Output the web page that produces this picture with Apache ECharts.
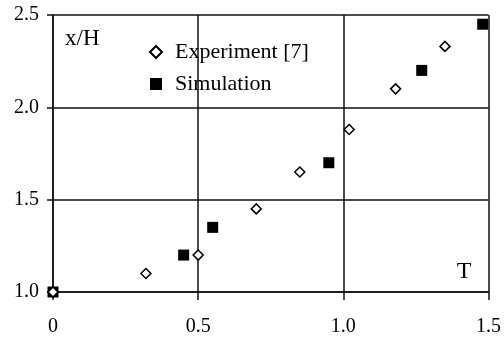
<!DOCTYPE html>
<html>
<head>
<meta charset="utf-8">
<script src="https://cdn.jsdelivr.net/npm/echarts@6/dist/echarts.min.js"></script>
<style>
  html, body { margin: 0; padding: 0; background: #fff; }
  #main { width: 504px; height: 338px; }
</style>
</head>
<body>
<div id="main"></div>
<script>
// 数据
var experiment = [[0, 1.0], [0.32, 1.1], [0.5, 1.2], [0.7, 1.45], [0.85, 1.65], [1.02, 1.88], [1.18, 2.1], [1.35, 2.33]];
var simulation = [[0, 1.0], [0.45, 1.2], [0.55, 1.35], [0.95, 1.7], [1.27, 2.2], [1.48, 2.45]];
var xTickLabels = {'0': '0', '0.5': '0.5', '1': '1.0', '1.5': '1.5'};
var yTickLabels = {'1': '1.0', '1.5': '1.5', '2': '2.0', '2.5': '2.5'};

(function() {
    var myChart = echarts.init(document.getElementById('main'));
    var font = '"Liberation Serif", "Times New Roman", serif';
    var lineColor = '#111';

    var option = {
        animation: false,
        grid: {
            left: 53,
            right: 13,
            top: 15,
            bottom: 46
        },
        legend: {
            orient: 'vertical',
            left: 144,
            top: 36,
            itemWidth: 12,
            itemHeight: 12,
            itemGap: 10,
            textStyle: {
                fontFamily: font,
                fontSize: 22,
                color: '#000',
                padding: [0, 0, 0, 8]
            },
            data: ['Experiment [7]', 'Simulation']
        },
        xAxis: {
            type: 'value',
            min: 0,
            max: 1.5,
            interval: 0.5,
            name: 'T',
            nameLocation: 'end',
            nameGap: -17,
            nameTextStyle: {
                fontFamily: font,
                fontSize: 24,
                color: '#000',
                align: 'right',
                verticalAlign: 'bottom',
                padding: [0, 0, 8, 0]
            },
            axisLine: { lineStyle: { color: lineColor, width: 1.5 } },
            axisTick: { show: true, inside: false, length: 8, lineStyle: { color: lineColor, width: 1.5 } },
            axisLabel: {
                margin: 25,
                fontFamily: font,
                fontSize: 20,
                color: '#000',
                formatter: function(v) { return xTickLabels[String(v)] || ''; }
            },
            splitLine: { show: true, lineStyle: { color: lineColor, width: 1.5 } }
        },
        yAxis: {
            type: 'value',
            min: 1.0,
            max: 2.5,
            interval: 0.5,
            name: 'x/H',
            nameLocation: 'end',
            nameGap: -24,
            nameTextStyle: {
                fontFamily: font,
                fontSize: 23,
                color: '#000',
                align: 'left',
                verticalAlign: 'middle',
                padding: [0, 0, 0, 12]
            },
            axisLine: { show: true, lineStyle: { color: lineColor, width: 1.5 } },
            axisTick: { show: true, inside: false, length: 6, lineStyle: { color: lineColor, width: 1.5 } },
            axisLabel: {
                margin: 14,
                fontFamily: font,
                fontSize: 20,
                color: '#000',
                formatter: function(v) { return yTickLabels[String(v)] || ''; }
            },
            splitLine: { show: true, lineStyle: { color: lineColor, width: 1.5 } }
        },
        series: [{
            name: 'Simulation',
            type: 'scatter',
            symbol: 'rect',
            symbolSize: 11,
            itemStyle: { color: '#000', opacity: 1 },
            data: simulation
        }, {
            name: 'Experiment [7]',
            type: 'scatter',
            symbol: 'diamond',
            symbolSize: 10,
            itemStyle: { color: '#fff', borderColor: '#000', borderWidth: 1.5, opacity: 1 },
            data: experiment
        }]
    };

    myChart.setOption(option);
})();
</script>
</body>
</html>
